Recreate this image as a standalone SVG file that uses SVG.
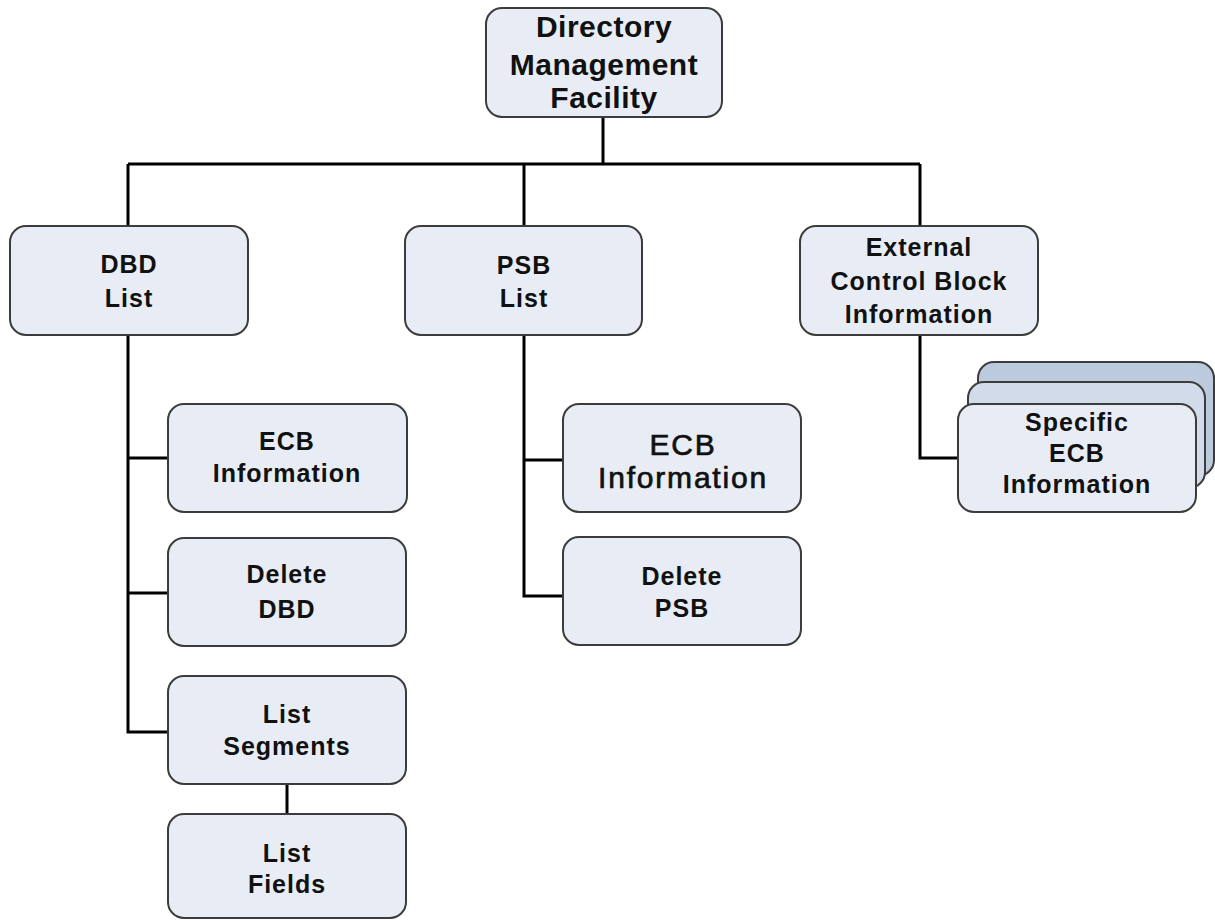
<svg xmlns="http://www.w3.org/2000/svg" width="1215" height="920" viewBox="0 0 1215 920">
<style>
.box{fill:#e8edf5;stroke:#3c3c3c;stroke-width:2}
.mid{fill:#d2dbe9;stroke:#3c3c3c;stroke-width:2}
.back{fill:#bccadd;stroke:#3c3c3c;stroke-width:2}
.t{font-family:"Liberation Sans",Arial,sans-serif;font-weight:bold;font-size:25px;letter-spacing:1px;fill:#111;text-anchor:middle}
.big{font-size:30px;letter-spacing:0.5px}
.reg{font-weight:normal;stroke:#111;stroke-width:0.7;letter-spacing:1.8px}
.c{fill:none;stroke:#000;stroke-width:3}
</style>
<rect width="1215" height="920" fill="#fff"/>
<g id="connectors">
<path class="c" d="M603 117V164M128 164H920M128 164V226M524 164V226M920 164V226"/>
<path class="c" d="M128 335V732H168M128 458H168M128 593H168"/>
<path class="c" d="M287 784V814"/>
<path class="c" d="M524 335V596H563M524 460H563"/>
<path class="c" d="M920 335V458H958"/>
</g>
<g id="dmf">
<rect class="box" x="486" y="8" width="236" height="109" rx="16"/>
<text class="t big" x="604" y="37">Directory</text>
<text class="t big" x="604" y="75">Management</text>
<text class="t big" x="604" y="108">Facility</text>
</g>
<g id="dbd-list">
<rect class="box" x="10" y="226" width="238" height="109" rx="16"/>
<text class="t" x="129" y="273">DBD</text>
<text class="t" x="129" y="307">List</text>
</g>
<g id="psb-list">
<rect class="box" x="405" y="226" width="237" height="109" rx="16"/>
<text class="t" x="524" y="274">PSB</text>
<text class="t" x="524" y="307">List</text>
</g>
<g id="ext">
<rect class="box" x="800" y="226" width="238" height="109" rx="16"/>
<text class="t" x="919" y="256">External</text>
<text class="t" x="919" y="290">Control Block</text>
<text class="t" x="919" y="323">Information</text>
</g>
<g id="dbd-ecb">
<rect class="box" x="168" y="404" width="239" height="108" rx="16"/>
<text class="t" x="287" y="450">ECB</text>
<text class="t" x="287" y="482">Information</text>
</g>
<g id="delete-dbd">
<rect class="box" x="168" y="538" width="238" height="108" rx="16"/>
<text class="t" x="287" y="583">Delete</text>
<text class="t" x="287" y="618">DBD</text>
</g>
<g id="list-segments">
<rect class="box" x="168" y="676" width="238" height="108" rx="16"/>
<text class="t" x="287" y="723">List</text>
<text class="t" x="287" y="755">Segments</text>
</g>
<g id="list-fields">
<rect class="box" x="168" y="814" width="238" height="104" rx="16"/>
<text class="t" x="287" y="862">List</text>
<text class="t" x="287" y="893">Fields</text>
</g>
<g id="psb-ecb">
<rect class="box" x="563" y="404" width="238" height="108" rx="16"/>
<text class="t big reg" x="683" y="455">ECB</text>
<text class="t big reg" x="683" y="488">Information</text>
</g>
<g id="delete-psb">
<rect class="box" x="563" y="537" width="238" height="108" rx="16"/>
<text class="t" x="682" y="585">Delete</text>
<text class="t" x="682" y="617">PSB</text>
</g>
<g id="specific-ecb">
<rect class="back" x="978" y="362" width="236" height="114" rx="16"/>
<rect class="mid" x="968" y="382" width="237" height="106" rx="16"/>
<rect class="box" x="958" y="404" width="238" height="108" rx="16"/>
<text class="t" x="1077" y="431">Specific</text>
<text class="t" x="1077" y="462">ECB</text>
<text class="t" x="1077" y="493">Information</text>
</g>
</svg>
